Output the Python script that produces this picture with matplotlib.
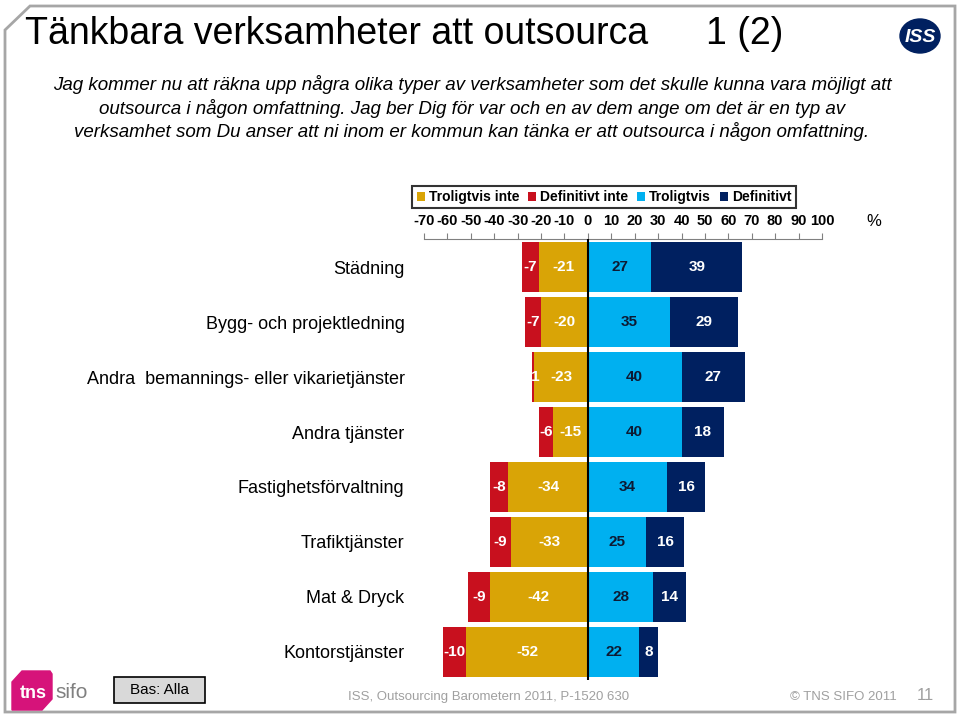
import numpy as np
import matplotlib
matplotlib.use("Agg")
import matplotlib.pyplot as plt
from matplotlib.patches import Polygon, Rectangle, Ellipse

plt.rcParams['font.family'] = ['Liberation Sans', 'DejaVu Sans']

#-------------------------------------------------------------------------
#                               Data
#-------------------------------------------------------------------------
categories = ['Städning', 'Bygg- och projektledning',
              'Andra  bemannings- eller vikarietjänster', 'Andra tjänster',
              'Fastighetsförvaltning', 'Trafiktjänster', 'Mat & Dryck',
              'Kontorstjänster']
def_inte = [-7, -7, -1, -6, -8, -9, -9, -10]        # Definitivt inte
trol_inte = [-21, -20, -23, -15, -34, -33, -42, -52]  # Troligtvis inte
trol = [27, 35, 40, 40, 34, 25, 28, 22]             # Troligtvis
definitivt = [39, 29, 27, 18, 16, 16, 14, 8]        # Definitivt
ticks = list(range(-70, 101, 10))

c_gold = '#D9A406'
c_red = '#C8101E'
c_lblue = '#00B0F0'
c_navy = '#002060'

#-------------------------------------------------------------------------
#                               Figure
#-------------------------------------------------------------------------
fig = plt.figure(figsize=(9.6, 7.19), dpi=100)

# slide frame with cut corner
W, H = 960, 719
def px(x, y):
    return (x / W, 1 - y / H)
frame = Polygon([px(5, 30), px(30, 6), px(955, 6), px(955, 712), px(5, 712)],
                closed=True, fill=False, edgecolor='#a6a6a6', lw=2,
                transform=fig.transFigure)
fig.patches.append(frame)

fig.text(*px(25, 34), 'Tänkbara verksamheter att outsourca', fontsize=27,
         va='center', ha='left')
fig.text(*px(706, 34), '1 (2)', fontsize=27, va='center', ha='left')

sub = ('Jag kommer nu att räkna upp några olika typer av verksamheter som det skulle kunna vara möjligt att\n'
       'outsourca i någon omfattning. Jag ber Dig för var och en av dem ange om det är en typ av\n'
       'verksamhet som Du anser att ni inom er kommun kan tänka er att outsourca i någon omfattning.')
fig.text(*px(472, 108), sub, fontsize=13.5, style='italic', ha='center',
         va='center', linespacing=1.3)

# ISS logo
fig.patches.append(Ellipse(px(920, 36), 40 / W, 34 / H, color=c_navy,
                           transform=fig.transFigure))
fig.text(*px(920, 37), 'ISS', color='white', fontsize=14, weight='bold',
         style='italic', ha='center', va='center')

#-------------------------------------------------------------------------
#                               Chart
#-------------------------------------------------------------------------
ax = fig.add_axes([424 / W, 1 - 680 / H, (822 - 424) / W, (680 - 239) / H])
y = np.arange(len(categories))
h = 0.9

b_ti = ax.barh(y, trol_inte, height=h, color=c_gold, label='Troligtvis inte')
b_di = ax.barh(y, def_inte, left=trol_inte, height=h, color=c_red,
               label='Definitivt inte')
b_t = ax.barh(y, trol, height=h, color=c_lblue, label='Troligtvis')
b_d = ax.barh(y, definitivt, left=trol, height=h, color=c_navy,
              label='Definitivt')

for i in range(len(categories)):
    ax.text(trol_inte[i] + def_inte[i] / 2, i, str(def_inte[i]), color='white',
            weight='bold', fontsize=11, ha='center', va='center')
    ax.text(trol_inte[i] / 2, i, str(trol_inte[i]), color='white',
            weight='bold', fontsize=11, ha='center', va='center')
    ax.text(trol[i] / 2, i, str(trol[i]), color='#0d1a33',
            weight='bold', fontsize=11, ha='center', va='center')
    ax.text(trol[i] + definitivt[i] / 2, i, str(definitivt[i]), color='white',
            weight='bold', fontsize=11, ha='center', va='center')

ax.axvline(0, color='black', lw=1.5, zorder=5)
ax.set_xlim(-70, 100)
ax.set_ylim(7.51, -0.51)
ax.xaxis.tick_top()
ax.set_xticks(ticks)
ax.set_xticklabels([str(t) for t in ticks], fontsize=10.5, weight='bold')
ax.tick_params(axis='x', direction='out', length=4, color='#808080', pad=4)
ax.set_yticks(y)
ax.set_yticklabels(categories, fontsize=13)
ax.tick_params(axis='y', length=0, pad=14)
for s in ['bottom', 'left', 'right']:
    ax.spines[s].set_visible(False)
ax.spines['top'].set_color('#808080')
ax.patch.set_alpha(0)

fig.text(*px(874, 221), '%', fontsize=12, ha='center', va='center')

leg = fig.legend(handles=[b_ti, b_di, b_t, b_d], ncol=4,
                 loc='center', bbox_to_anchor=px(604, 197),
                 prop={'weight': 'bold', 'size': 10}, frameon=True,
                 fancybox=False, handlelength=0.6, handleheight=0.6,
                 handletextpad=0.3, columnspacing=0.6, borderpad=0.3)
leg.get_frame().set_edgecolor('black')
leg.get_frame().set_linewidth(1.5)

#-------------------------------------------------------------------------
#                               Footer
#-------------------------------------------------------------------------
# tns sifo logo
fig.patches.append(Polygon([px(12, 682), px(22, 671), px(50, 671), px(52, 674),
                            px(52, 699), px(42, 710), px(12, 710)],
                           closed=True, color='#D6137A',
                           transform=fig.transFigure))
fig.text(*px(33, 694), 'tns', color='white', fontsize=13, weight='bold',
         ha='center', va='center')
fig.text(*px(72, 693), 'sifo', color='#808080', fontsize=15,
         ha='center', va='center')

fig.patches.append(Rectangle(px(114, 703), 91 / W, 26 / H, facecolor='#d9d9d9',
                             edgecolor='black', lw=1.2,
                             transform=fig.transFigure))
fig.text(*px(159, 690), 'Bas: Alla', fontsize=11, ha='center', va='center')

fig.text(*px(348, 697), 'ISS, Outsourcing Barometern 2011, P-1520 630',
         fontsize=9.5, color='#a0a0a0', ha='left', va='center')
fig.text(*px(897, 697), '© TNS SIFO 2011', fontsize=9.5, color='#a0a0a0',
         ha='right', va='center')
fig.text(*px(925, 695), '11', fontsize=12, color='#a0a0a0',
         ha='center', va='center')

fig.savefig('out.png', dpi=100)
